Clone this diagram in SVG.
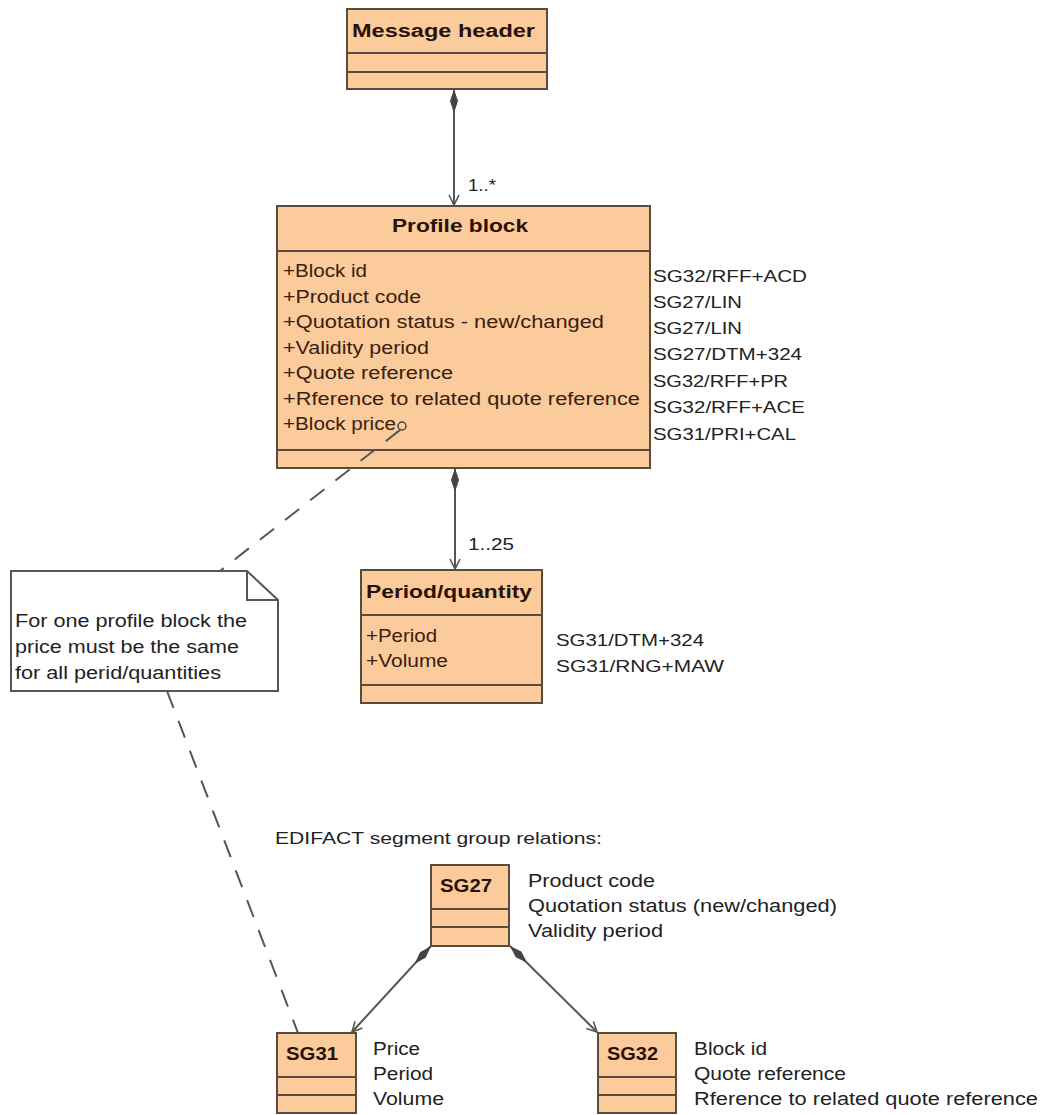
<svg xmlns="http://www.w3.org/2000/svg" width="1045" height="1115" viewBox="0 0 1045 1115">
<style>
.box{fill:#FBCB9B;stroke:#5c4a3d;stroke-width:2}
.div{stroke:#5c4a3d;stroke-width:2}
.ttl{font-family:"Liberation Sans",Arial,sans-serif;font-weight:bold;font-size:18px;fill:#2a1208}
.att{font-family:"Liberation Sans",Arial,sans-serif;font-size:17.5px;fill:#3a2010}
.lbl{font-family:"Liberation Sans",Arial,sans-serif;font-size:16.5px;fill:#222}
.txt{font-family:"Liberation Sans",Arial,sans-serif;font-size:17.5px;fill:#222}
.con{stroke:#555;stroke-width:2;fill:none}
.dash{stroke:#555;stroke-width:2;fill:none;stroke-dasharray:18 14}
</style>
<defs>
<marker id="diamond" viewBox="0 0 24 10" refX="0" refY="5" markerWidth="24" markerHeight="10" markerUnits="userSpaceOnUse" orient="auto"><path d="M0,5 L12,1 L24,5 L12,9 Z" fill="#444"/></marker>
<marker id="arrow" viewBox="0 0 12 12" refX="11" refY="6" markerWidth="12" markerHeight="12" markerUnits="userSpaceOnUse" orient="auto"><path d="M1,1 L11,6 L1,11" fill="none" stroke="#555" stroke-width="1.6"/></marker>
</defs>
<rect width="1045" height="1115" fill="#fff"/>

<g id="connectors">
<line class="con" x1="454" y1="89" x2="454" y2="205" marker-start="url(#diamond)" marker-end="url(#arrow)"/>
<line class="con" x1="455" y1="468" x2="455" y2="569" marker-start="url(#diamond)" marker-end="url(#arrow)"/>
<line class="con" x1="431" y1="946" x2="352" y2="1032" marker-start="url(#diamond)" marker-end="url(#arrow)"/>
<line class="con" x1="510" y1="946" x2="597" y2="1032" marker-start="url(#diamond)" marker-end="url(#arrow)"/>
<text class="lbl" x="468" y="191" textLength="28" lengthAdjust="spacingAndGlyphs">1..*</text>
<text class="lbl" x="468" y="550" textLength="46" lengthAdjust="spacingAndGlyphs">1..25</text>
</g>

<g id="message-header">
<rect class="box" x="347" y="9" width="200" height="80"/>
<line class="div" x1="347" y1="53" x2="547" y2="53"/>
<line class="div" x1="347" y1="72" x2="547" y2="72"/>
<text class="ttl" x="352" y="37" textLength="183" lengthAdjust="spacingAndGlyphs">Message header</text>
</g>

<g id="profile-block">
<rect class="box" x="277" y="206" width="373" height="262"/>
<line class="div" x1="277" y1="251" x2="650" y2="251"/>
<line class="div" x1="277" y1="450" x2="650" y2="450"/>
<text class="ttl" x="392" y="232" textLength="136" lengthAdjust="spacingAndGlyphs">Profile block</text>
<text class="att" x="283" y="277" textLength="84" lengthAdjust="spacingAndGlyphs">+Block id</text>
<text class="att" x="283" y="302.5" textLength="138" lengthAdjust="spacingAndGlyphs">+Product code</text>
<text class="att" x="283" y="328" textLength="321" lengthAdjust="spacingAndGlyphs">+Quotation status - new/changed</text>
<text class="att" x="283" y="354" textLength="146" lengthAdjust="spacingAndGlyphs">+Validity period</text>
<text class="att" x="283" y="379" textLength="170" lengthAdjust="spacingAndGlyphs">+Quote reference</text>
<text class="att" x="283" y="405" textLength="357" lengthAdjust="spacingAndGlyphs">+Rference to related quote reference</text>
<text class="att" x="283" y="430" textLength="113" lengthAdjust="spacingAndGlyphs">+Block price</text>
<circle cx="402" cy="426" r="4" fill="none" stroke="#444" stroke-width="1.5"/>
</g>
<g id="profile-block-labels">
<text class="lbl" x="653" y="282" textLength="154" lengthAdjust="spacingAndGlyphs">SG32/RFF+ACD</text>
<text class="lbl" x="653" y="308" textLength="89" lengthAdjust="spacingAndGlyphs">SG27/LIN</text>
<text class="lbl" x="653" y="334" textLength="89" lengthAdjust="spacingAndGlyphs">SG27/LIN</text>
<text class="lbl" x="653" y="360" textLength="149" lengthAdjust="spacingAndGlyphs">SG27/DTM+324</text>
<text class="lbl" x="653" y="387" textLength="135" lengthAdjust="spacingAndGlyphs">SG32/RFF+PR</text>
<text class="lbl" x="653" y="413" textLength="152" lengthAdjust="spacingAndGlyphs">SG32/RFF+ACE</text>
<text class="lbl" x="653" y="440" textLength="143" lengthAdjust="spacingAndGlyphs">SG31/PRI+CAL</text>
</g>

<g id="period-quantity">
<rect class="box" x="361" y="570" width="181" height="133"/>
<line class="div" x1="361" y1="615" x2="542" y2="615"/>
<line class="div" x1="361" y1="685" x2="542" y2="685"/>
<text class="ttl" x="366" y="598" textLength="166" lengthAdjust="spacingAndGlyphs">Period/quantity</text>
<text class="att" x="366" y="642" textLength="71" lengthAdjust="spacingAndGlyphs">+Period</text>
<text class="att" x="366" y="667" textLength="82" lengthAdjust="spacingAndGlyphs">+Volume</text>
</g>
<g id="period-quantity-labels">
<text class="lbl" x="556" y="646" textLength="148" lengthAdjust="spacingAndGlyphs">SG31/DTM+324</text>
<text class="lbl" x="556" y="672" textLength="168" lengthAdjust="spacingAndGlyphs">SG31/RNG+MAW</text>
</g>

<g id="note-links">
<line class="dash" x1="400" y1="430" x2="220" y2="571"/>
<line class="dash" x1="167" y1="691" x2="298" y2="1033"/>
</g>

<g id="note">
<path d="M11,571 L247,571 L278,600 L278,691 L11,691 Z" fill="#fff" stroke="#555" stroke-width="2"/>
<path d="M247,571 L247,600 L278,600" fill="none" stroke="#555" stroke-width="2"/>
<text class="txt" x="15" y="627" textLength="232" lengthAdjust="spacingAndGlyphs">For one profile block the</text>
<text class="txt" x="15" y="653" textLength="224" lengthAdjust="spacingAndGlyphs">price must be the same</text>
<text class="txt" x="15" y="679" textLength="206" lengthAdjust="spacingAndGlyphs">for all perid/quantities</text>
</g>

<g id="edifact-caption">
<text class="lbl" x="275" y="844" textLength="327" lengthAdjust="spacingAndGlyphs">EDIFACT segment group relations:</text>
</g>

<g id="sg27">
<rect class="box" x="431" y="865" width="78" height="81"/>
<line class="div" x1="431" y1="909" x2="509" y2="909"/>
<line class="div" x1="431" y1="927" x2="509" y2="927"/>
<text class="ttl" x="440" y="892" textLength="52" lengthAdjust="spacingAndGlyphs">SG27</text>
<text class="txt" x="528" y="887" textLength="127" lengthAdjust="spacingAndGlyphs">Product code</text>
<text class="txt" x="528" y="912" textLength="309" lengthAdjust="spacingAndGlyphs">Quotation status (new/changed)</text>
<text class="txt" x="528" y="937" textLength="135" lengthAdjust="spacingAndGlyphs">Validity period</text>
</g>

<g id="sg31">
<rect class="box" x="277" y="1033" width="79" height="80"/>
<line class="div" x1="277" y1="1077" x2="356" y2="1077"/>
<line class="div" x1="277" y1="1095" x2="356" y2="1095"/>
<text class="ttl" x="286" y="1060" textLength="52" lengthAdjust="spacingAndGlyphs">SG31</text>
<text class="txt" x="373" y="1055" textLength="47" lengthAdjust="spacingAndGlyphs">Price</text>
<text class="txt" x="373" y="1080" textLength="60" lengthAdjust="spacingAndGlyphs">Period</text>
<text class="txt" x="373" y="1105" textLength="71" lengthAdjust="spacingAndGlyphs">Volume</text>
</g>

<g id="sg32">
<rect class="box" x="598" y="1033" width="78" height="80"/>
<line class="div" x1="598" y1="1077" x2="676" y2="1077"/>
<line class="div" x1="598" y1="1095" x2="676" y2="1095"/>
<text class="ttl" x="607" y="1060" textLength="51" lengthAdjust="spacingAndGlyphs">SG32</text>
<text class="txt" x="694" y="1055" textLength="73" lengthAdjust="spacingAndGlyphs">Block id</text>
<text class="txt" x="694" y="1080" textLength="152" lengthAdjust="spacingAndGlyphs">Quote reference</text>
<text class="txt" x="694" y="1105" textLength="344" lengthAdjust="spacingAndGlyphs">Rference to related quote reference</text>
</g>
</svg>
